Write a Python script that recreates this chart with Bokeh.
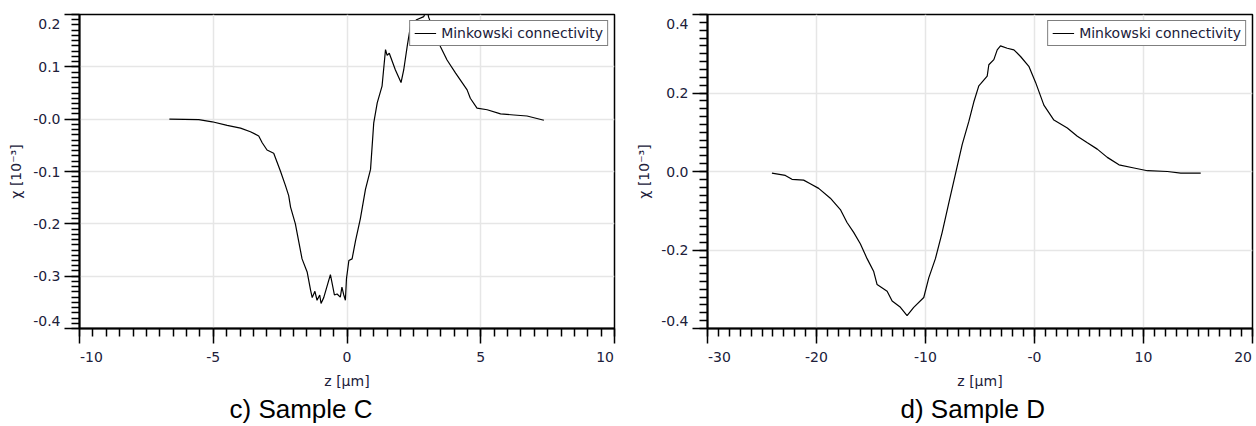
import numpy as np
from bokeh.plotting import figure
from bokeh.layouts import row
from bokeh.models import FixedTicker, Title, Range1d, LinearAxis, CustomLabelingPolicy
from bokeh.embed import file_html
from bokeh.resources import INLINE

# Sample C: Minkowski connectivity profile along z
c_z = [-6.64, -5.54, -5.04, -4.48, -3.98, -3.61, -3.30, -3.17, -2.99, -2.74,
       -2.49, -2.30, -2.18, -2.11, -1.93, -1.80, -1.68, -1.49, -1.36, -1.30,
       -1.20, -1.12, -1.02, -0.97, -0.87, -0.62, -0.47, -0.37, -0.25, -0.19,
       -0.12, -0.06, -0.02, 0.07, 0.19, 0.32, 0.50, 0.69, 0.88, 1.00,
       1.13, 1.31, 1.44, 1.50, 1.58, 1.81, 2.02, 2.12, 2.25, 2.37,
       2.60, 2.87, 2.99, 3.05, 3.20, 3.50, 3.74, 4.06, 4.49, 4.61,
       4.86, 5.24, 5.74, 6.24, 6.73, 7.36]
c_chi = [0.000, -0.001, -0.005, -0.012, -0.017, -0.024, -0.032, -0.045, -0.059, -0.065,
         -0.099, -0.127, -0.146, -0.168, -0.200, -0.235, -0.267, -0.292, -0.327, -0.341,
         -0.329, -0.346, -0.336, -0.352, -0.341, -0.297, -0.336, -0.334, -0.340, -0.321,
         -0.336, -0.346, -0.305, -0.270, -0.267, -0.232, -0.190, -0.134, -0.096, -0.007,
         0.031, 0.063, 0.133, 0.122, 0.126, 0.094, 0.070, 0.094, 0.139, 0.177,
         0.190, 0.196, 0.212, 0.195, 0.175, 0.138, 0.113, 0.088, 0.056, 0.040,
         0.021, 0.018, 0.010, 0.008, 0.006, -0.002]

# Sample D: Minkowski connectivity profile along z
d_z = [-24.09, -22.86, -22.25, -21.18, -20.57, -19.80, -18.73, -17.81, -17.20, -16.59,
       -15.98, -15.36, -14.75, -14.44, -13.52, -13.06, -12.30, -11.69, -11.08, -10.16,
       -9.70, -9.09, -8.47, -7.86, -7.25, -6.63, -6.03, -5.57, -5.11, -4.95,
       -4.34, -4.19, -3.73, -3.42, -3.12, -2.50, -1.89, -1.28, -0.52, 0.10,
       0.86, 1.78, 3.01, 3.93, 4.85, 5.76, 6.68, 7.75, 9.13, 10.36,
       12.19, 13.42, 15.25]
d_chi = [-0.004, -0.010, -0.020, -0.022, -0.031, -0.043, -0.068, -0.097, -0.130, -0.155,
         -0.184, -0.222, -0.255, -0.288, -0.305, -0.330, -0.346, -0.367, -0.346, -0.321,
         -0.271, -0.222, -0.155, -0.080, -0.006, 0.069, 0.127, 0.177, 0.218, 0.223,
         0.243, 0.272, 0.285, 0.310, 0.320, 0.314, 0.310, 0.293, 0.268, 0.227,
         0.169, 0.131, 0.111, 0.090, 0.073, 0.057, 0.036, 0.017, 0.009, 0.002,
         0.000, -0.004, -0.004]

# Tick values and their printed labels
c_xticks = [-10, -5, 0, 5, 10]
c_xlabels = ["-10", "-5", "0", "5", "10"]
c_yticks = [-0.4, -0.3, -0.2, -0.1, 0.0, 0.1, 0.2]
c_ylabels = ["-0.4", "-0.3", "-0.2", "-0.1", "-0.0", "0.1", "0.2"]
d_xticks = [-30, -20, -10, 0, 10, 20]
d_xlabels = ["-30", "-20", "-10", "-0", "10", "20"]
d_yticks = [-0.4, -0.2, 0.0, 0.2, 0.4]
d_ylabels = ["-0.4", "-0.2", "0.0", "0.2", "0.4"]

TICK_FONT = "DejaVu Sans"
TICK_PX = 14
TICK_SIZE = f"{TICK_PX}px"
TICK_COLOR = "#20203a"
MAJOR_OUT = 15

# approximate advance widths (em) of the tick-label glyphs
CHAR_EM = {"-": 0.361, ".": 0.318}

# the tick-mark axes show no labels at all
NO_LABELS_JS = """
try { return new indices.constructor(indices.size, 0) } catch (e) { return indices }
"""


def text_width(s):
    return sum(CHAR_EM.get(ch, 0.636) for ch in s) * TICK_PX


def minor_ticks(start, end, step):
    return [float(v) for v in np.round(np.arange(start, end + step / 2, step), 6)]


def label_positions_x(ticks, labels, rng, frame_px):
    # end labels are pulled inward so they stay within the axis span
    per_px = (rng[1] - rng[0]) / frame_px
    pos = list(map(float, ticks))
    pos[0] = ticks[0] + (text_width(labels[0]) / 2 + 0.5) * per_px
    pos[-1] = ticks[-1] - (text_width(labels[-1]) / 2 + 0.5) * per_px
    return pos


def label_positions_y(ticks, rng, frame_px):
    per_px = (rng[1] - rng[0]) / frame_px
    pos = list(map(float, ticks))
    pos[0] = ticks[0] + 8 * per_px
    pos[-1] = ticks[-1] - 9.5 * per_px
    return pos


def style_text(ax):
    ax.major_label_text_font = TICK_FONT
    ax.major_label_text_font_size = TICK_SIZE
    ax.major_label_text_color = TICK_COLOR
    ax.axis_label_text_font = TICK_FONT
    ax.axis_label_text_font_size = TICK_SIZE
    ax.axis_label_text_font_style = "normal"
    ax.axis_label_text_color = TICK_COLOR


def panel(z, chi, xr, yr, xt, xl, xstep, yt, yl, ystep, caption, cap_offset,
          width, left, right, top, bottom):
    fw = width - left - right
    fh = 426 - top - bottom
    p = figure(width=width, height=426, output_backend="svg", toolbar_location=None,
               x_range=Range1d(*xr), y_range=Range1d(*yr),
               min_border_left=left, min_border_right=right,
               min_border_top=top, min_border_bottom=bottom)
    p.outline_line_color = "black"
    p.outline_line_width = 1.5
    p.background_fill_color = "white"
    p.border_fill_color = "white"

    p.line(z, chi, line_color="black", line_width=1.2,
           legend_label="Minkowski connectivity")

    xax = p.xaxis[0]
    yax = p.yaxis[0]

    # inner axes: axis line, major and minor tick marks
    xax.ticker = FixedTicker(ticks=xt, minor_ticks=minor_ticks(xr[0], xr[1], xstep))
    yax.ticker = FixedTicker(ticks=yt, minor_ticks=minor_ticks(yr[0], yr[1], ystep))
    for ax in (xax, yax):
        ax.axis_line_color = "black"
        ax.axis_line_width = 2
        ax.major_tick_line_color = "black"
        ax.major_tick_line_width = 1.5
        ax.minor_tick_line_color = "black"
        ax.minor_tick_line_width = 1.5
        ax.major_tick_out = MAJOR_OUT
        ax.major_tick_in = 0
        ax.minor_tick_out = 8
        ax.minor_tick_in = 0
        ax.major_label_text_font_size = "0px"
        ax.major_label_standoff = 0
        ax.major_label_policy = CustomLabelingPolicy(code=NO_LABELS_JS)

    # outer axes: tick labels and axis titles
    xpos = label_positions_x(xt, xl, xr, fw)
    ypos = label_positions_y(yt, yr, fh)
    xlab = LinearAxis(ticker=FixedTicker(ticks=xpos, minor_ticks=[]),
                      major_label_overrides=dict(zip(xpos, xl)),
                      axis_line_color=None, major_tick_line_color=None,
                      minor_tick_line_color=None, major_tick_out=0, major_tick_in=0,
                      minor_tick_out=0, minor_tick_in=0,
                      major_label_standoff=8, axis_label="z [µm]", axis_label_standoff=8)
    ylab = LinearAxis(ticker=FixedTicker(ticks=ypos, minor_ticks=[]),
                      major_label_overrides=dict(zip(ypos, yl)),
                      axis_line_color=None, major_tick_line_color=None,
                      minor_tick_line_color=None, major_tick_out=0, major_tick_in=0,
                      minor_tick_out=0, minor_tick_in=0,
                      major_label_standoff=4, axis_label="χ [10⁻³]", axis_label_standoff=6,
                      major_label_orientation="horizontal")
    style_text(xlab)
    style_text(ylab)
    p.add_layout(xlab, "below")
    p.add_layout(ylab, "left")

    p.xgrid.ticker = FixedTicker(ticks=xt, minor_ticks=[])
    p.ygrid.ticker = FixedTicker(ticks=yt, minor_ticks=[])
    p.xgrid.grid_line_color = "#e6e6e6"
    p.ygrid.grid_line_color = "#e6e6e6"
    p.xgrid.grid_line_width = 1.5
    p.ygrid.grid_line_width = 1.5

    lg = p.legend[0]
    lg.location = "top_right"
    lg.margin = 6
    lg.padding = 4
    lg.spacing = 0
    lg.border_line_color = "black"
    lg.border_line_width = 1.2
    lg.background_fill_color = "white"
    lg.background_fill_alpha = 1.0
    lg.label_text_font = TICK_FONT
    lg.label_text_font_size = TICK_SIZE
    lg.label_text_color = TICK_COLOR
    lg.glyph_width = 22
    lg.glyph_height = 16
    lg.label_standoff = 5
    lg.label_height = 16

    p.add_layout(Title(text=caption, align="left", offset=cap_offset, standoff=0,
                       text_font="Liberation Sans", text_font_size="26px",
                       text_font_style="normal", text_color="black"), "below")
    return p


p1 = panel(c_z, c_chi, (-10, 10), (-0.4, 0.2), c_xticks, c_xlabels, 0.5,
           c_yticks, c_ylabels, 0.01, "c) Sample C", 150,
           630, 79, 16, 14, 96)
p2 = panel(d_z, d_chi, (-30, 20), (-0.4, 0.4), d_xticks, d_xlabels, 1.0,
           d_yticks, d_ylabels, 0.02, "d) Sample D", 193,
           626, 77, 4, 7, 98)

layout = row(p1, p2)
open("out.html", "w").write(file_html(layout, INLINE))
